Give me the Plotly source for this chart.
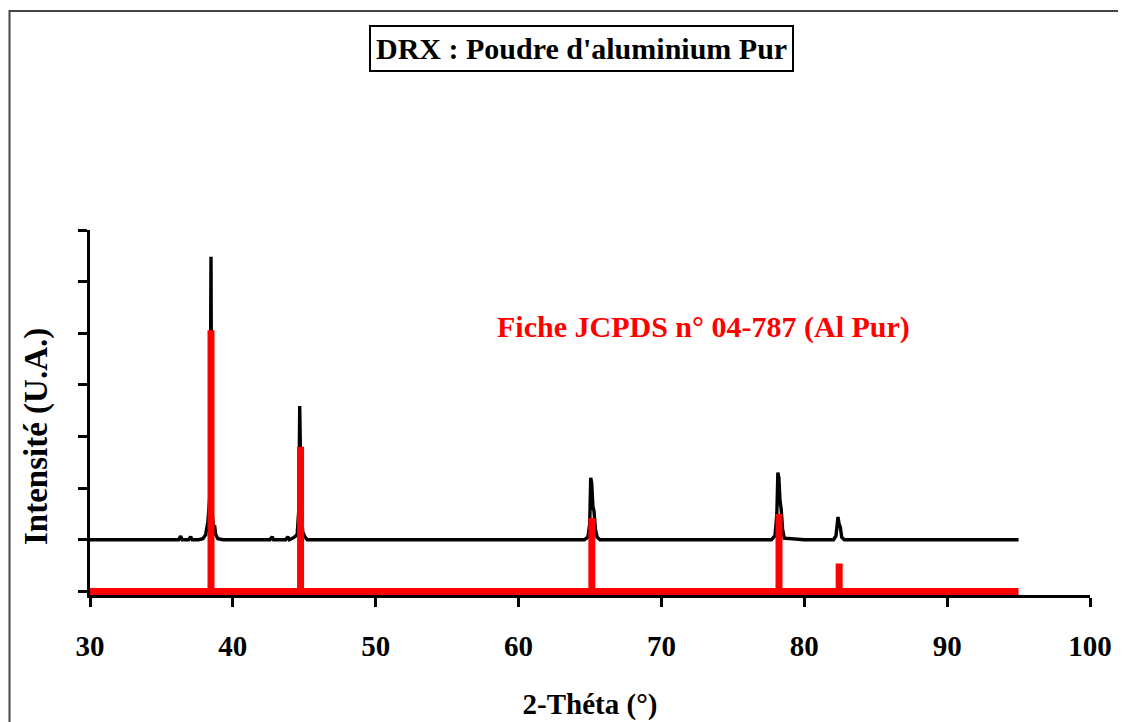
import plotly.graph_objects as go

# Measured pattern (black), offset baseline = 1
meas_x = [30, 33.0, 36.2, 36.35, 36.45, 36.6, 36.9, 37.05, 37.15, 37.3, 37.6, 37.9, 38.1, 38.25,
          38.38, 38.44, 38.47, 38.5, 38.56, 38.64, 38.72, 38.8, 38.95, 39.3, 41.0, 42.6, 42.75,
          42.85, 43.0, 43.7, 43.85, 43.95, 44.1, 44.3, 44.5, 44.62, 44.68, 44.74, 44.8, 44.9,
          45.0, 45.2, 48.0, 55.0, 60.0, 64.6, 64.85, 64.98, 65.05, 65.12, 65.2, 65.28, 65.38,
          65.5, 65.7, 70.0, 75.0, 77.7, 77.95, 78.08, 78.15, 78.22, 78.3, 78.38, 78.48, 78.6,
          80.0, 82.05, 82.22, 82.3, 82.36, 82.44, 82.52, 82.62, 82.8, 88.0, 95.0]
meas_y = [1.0, 1.0, 1.0, 1.07, 1.0, 1.0, 1.0, 1.06, 1.0, 1.0, 1.0, 1.02, 1.1, 1.35,
          1.8, 4.5, 6.48, 4.0, 1.5, 1.25, 1.28, 1.1, 1.02, 1.0, 1.0, 1.0, 1.06,
          1.0, 1.0, 1.0, 1.06, 1.0, 1.02, 1.05, 1.1, 1.6, 3.59, 2.5, 1.4, 1.15,
          1.08, 1.0, 1.0, 1.0, 1.0, 1.0, 1.05, 1.3, 2.2, 2.1, 1.65, 1.55, 1.2,
          1.05, 1.0, 1.0, 1.0, 1.0, 1.08, 1.5, 2.3, 2.2, 1.75, 1.6, 1.2, 1.03,
          1.0, 1.0, 1.08, 1.3, 1.44, 1.3, 1.25, 1.05, 1.0, 1.0, 1.0]

# JCPDS 04-787 reference lines (red)
ref_pos = [38.47, 44.74, 65.13, 78.23, 82.44]
ref_int = [5.06, 2.80, 1.42, 1.50, 0.54]
ref_start, ref_end = 30, 95

x_ticks = [30, 40, 50, 60, 70, 80, 90, 100]
y_ticks = [0, 1, 2, 3, 4, 5, 6, 7]

# build stick pattern from the reference list
stick_x, stick_y = [ref_start], [0]
for p, h in zip(ref_pos, ref_int):
    stick_x += [p, p, p]
    stick_y += [0, h, 0]
stick_x.append(ref_end)
stick_y.append(0)

serif = "Liberation Serif"

fig = go.Figure()
fig.add_trace(go.Scatter(x=meas_x, y=meas_y, mode="lines",
                         line=dict(color="black", width=3.4), showlegend=False,
                         hoverinfo="skip"))
fig.add_trace(go.Scatter(x=stick_x, y=stick_y, mode="lines",
                         line=dict(color="#ff0000", width=7), showlegend=False,
                         hoverinfo="skip"))

# page body adds an 8px offset, so the figure origin sits at (8, 8) on screen
fig.update_layout(
    width=1126, height=722,
    margin=dict(l=82, r=44, t=222, b=135),
    paper_bgcolor="white", plot_bgcolor="white",
    font=dict(family=serif, color="black"),
    xaxis=dict(range=[30, 100], tickvals=x_ticks, ticks="outside", ticklen=9,
               tickwidth=2.5, tickcolor="black", showline=True, linecolor="black",
               linewidth=2.5, showgrid=False, zeroline=False, layer="below traces",
               ticklabelstandoff=14,
               tickfont=dict(family=serif, size=29, weight="bold"),
               title=dict(text="2-Théta (°)", standoff=34,
                          font=dict(family=serif, size=29, weight="bold"))),
    yaxis=dict(range=[-0.07, 7], tickvals=y_ticks, ticks="outside", ticklen=9,
               tickwidth=2.5, tickcolor="black", showline=True, linecolor="black",
               linewidth=2.5, showgrid=False, zeroline=False, showticklabels=False,
               layer="below traces"),
    annotations=[
        dict(text="DRX : Poudre d'aluminium Pur", xref="paper", yref="paper",
             x=(581 - 90) / 1000, y=(595 - 49) / 365, xanchor="center", yanchor="middle",
             showarrow=False, bordercolor="black", borderwidth=2, borderpad=5,
             bgcolor="white", font=dict(family=serif, size=30, weight="bold")),
        dict(text="Fiche JCPDS n° 04-787 (Al Pur)", xref="paper", yref="paper",
             x=(703 - 90) / 1000, y=(595 - 327) / 365, xanchor="center",
             yanchor="middle", showarrow=False,
             font=dict(family=serif, size=30, color="#ff0000", weight="bold")),
        dict(text="Intensité (U.A.)", xref="paper", yref="paper",
             x=(36 - 90) / 1000, y=(595 - 437) / 365, xanchor="center",
             yanchor="middle", showarrow=False, textangle=-90,
             font=dict(family=serif, size=33, weight="bold")),
    ],
    shapes=[dict(type="rect", xref="paper", yref="paper",
                 x0=(9.5 - 90) / 1000, x1=(1160 - 90) / 1000,
                 y0=(595 - 740) / 365, y1=(595 - 11) / 365,
                 line=dict(color="#444444", width=2), layer="below")],
)

fig.write_html("out.html")
